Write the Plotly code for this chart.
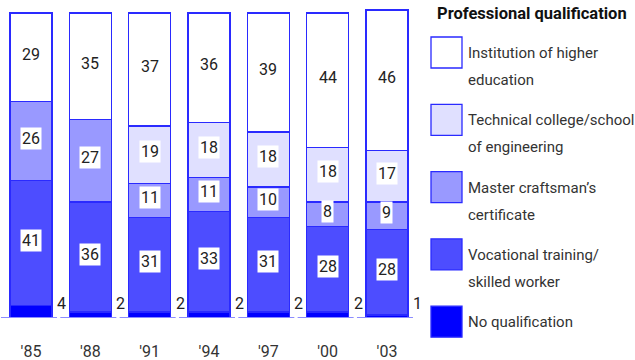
import plotly.graph_objects as go

# Share of each professional qualification (%), by survey year
years = ["'85", "'88", "'91", "'94", "'97", "'00", "'03"]
no_qualification = [4, 2, 2, 2, 2, 2, 1]
vocational = [41, 36, 31, 33, 31, 28, 28]
master_craftsman = [26, 27, 11, 11, 10, 8, 9]
technical_college = [None, None, 19, 18, 18, 18, 17]
higher_education = [29, 35, 37, 36, 39, 44, 46]

legend_title = "Professional qualification"
# bottom-to-top stacking order
series = [
    (["No qualification"], no_qualification, "#0000ff"),
    (["Vocational training/", "skilled worker"], vocational, "#4d4dff"),
    (["Master craftsman\u2019s", "certificate"], master_craftsman, "#9999ff"),
    (["Technical college/school", "of engineering"], technical_college, "#e0e0ff"),
    (["Institution of higher", "education"], higher_education, "#ffffff"),
]

FONT = "Roboto, sans-serif"
W, H = 635, 360
BAR_W = 0.708
xs = list(range(len(years)))

fig = go.Figure()
annotations = []
base = [0.0] * len(years)
for s_idx, (name, vals, color) in enumerate(series):
    fig.add_trace(go.Bar(
        x=xs, y=vals, width=BAR_W,
        marker=dict(color=color, line=dict(color="#2a2aff", width=1.3)),
        name=" ".join(name), hoverinfo="skip",
    ))
    for i, v in enumerate(vals):
        if v is None:
            continue
        if s_idx == 0:
            # smallest share written beside the bar foot
            annotations.append(dict(
                x=i + BAR_W / 2 + 0.05, y=0, xref="x", yref="y",
                text=str(v), showarrow=False, xanchor="left", yanchor="bottom",
                yshift=3, font=dict(family=FONT, size=16, color="#222222"),
            ))
        else:
            annotations.append(dict(
                x=i, y=base[i] + v / 2, xref="x", yref="y",
                text=str(v), showarrow=False, yshift=3,
                bgcolor="#ffffff", borderpad=1,
                font=dict(family=FONT, size=16, color="#222222"),
            ))
        base[i] += v

# light baseline under each bar
shapes = []
for i in xs:
    shapes.append(dict(type="line", xref="x", yref="y",
                       x0=i - 0.506, x1=i + 0.438, y0=0, y1=0,
                       line=dict(color="#8c8cff", width=2)))

# legend block on the right
def px(x):
    return x / W

def py(y):
    return 1 - y / H

annotations.append(dict(
    x=px(435), y=py(14), xref="paper", yref="paper", text="<b>" + legend_title + "</b>",
    showarrow=False, xanchor="left", yanchor="middle",
    font=dict(family=FONT, size=16.5, color="#111111"),
))
box_top = 37
for k, (name, vals, color) in enumerate(reversed(series)):
    y0 = box_top + k * 67.3
    shapes.append(dict(type="rect", xref="paper", yref="paper",
                       x0=px(431), x1=px(462), y0=py(y0), y1=py(y0 + 31),
                       fillcolor=color, line=dict(color="#2a2aff", width=1.3)))
    for j, line in enumerate(name):
        annotations.append(dict(
            x=px(466), y=py(y0 + 16 + j * 27), xref="paper", yref="paper",
            text=line, showarrow=False, xanchor="left", yanchor="middle",
            font=dict(family=FONT, size=15, color="#333333"),
        ))

fig.update_layout(
    width=W, height=H, margin=dict(l=0, r=0, t=0, b=0),
    barmode="stack", showlegend=False,
    paper_bgcolor="#ffffff", plot_bgcolor="#ffffff",
    annotations=annotations, shapes=shapes,
    xaxis=dict(domain=[0, 420 / W], range=[-31 / 59.33, (420 - 31) / 59.33],
               tickmode="array", tickvals=xs, ticktext=years,
               showgrid=False, zeroline=False, showline=False, ticks="",
               ticklabelstandoff=22,
               tickfont=dict(family=FONT, size=16, color="#333333")),
    yaxis=dict(domain=[42 / H, 1], range=[0, 100 * 318 / 305], visible=False),
)

fig.write_html("out.html")
